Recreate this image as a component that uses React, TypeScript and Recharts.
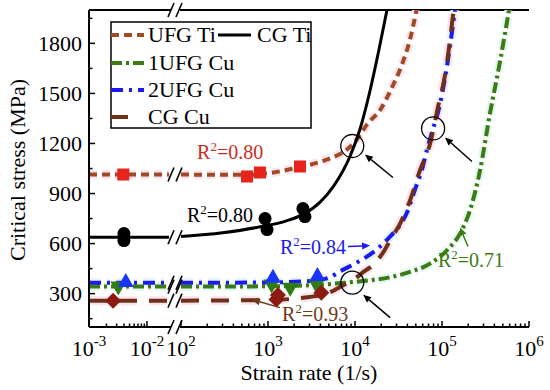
import React from "react";
import {
  ComposedChart,
  Line,
  Scatter,
  XAxis,
  YAxis,
  ReferenceDot,
  ReferenceLine,
} from "recharts";

const FONT = '"Liberation Serif", "Times New Roman", serif';

// strain rate (1/s) -> critical stress (MPa)
const ufgTiLow = [[1e-3, 1014], [0.024, 1014]];
const ufgTiHigh = [
  [100, 1014], [300, 1012], [600, 1012], [1000, 1022], [2300, 1058], [4760, 1104],
  [8090, 1164], [10500, 1224], [14000, 1320], [19400, 1400], [26600, 1536],
  [34700, 1674], [42900, 1824], [51000, 2000],
];
const ufgTiPts = [[3.9e-3, 1014], [574, 1002], [808, 1026], [2330, 1062]];

const cgTiLow = [[1e-3, 638], [0.024, 638]];
const cgTiHigh = [
  [100, 642], [300, 665], [900, 705], [1600, 735], [2600, 778], [4000, 850],
  [5600, 940], [8800, 1125], [11400, 1285], [14100, 1465], [18900, 1765], [23300, 2000],
];
const cgTiPts = [[4e-3, 660], [4e-3, 618], [925, 750], [975, 684], [2520, 810], [2660, 762]];

const ufg1CuLow = [[1e-3, 342], [0.024, 342]];
const ufg1CuHigh = [
  [100, 342], [1000, 344], [3000, 350], [8770, 368], [14900, 380], [25300, 398],
  [42900, 430], [72900, 480], [114000, 560], [161000, 660], [210000, 800],
  [274000, 1040], [356000, 1380], [464000, 1690], [589000, 2000],
];
const ufg1CuPts = [[3.2e-3, 342], [1100, 355], [1800, 335], [3600, 355]];

const ufg2CuLow = [[1e-3, 365], [0.024, 365]];
const ufg2CuHigh = [
  [100, 365], [1000, 367], [3000, 375], [5000, 395], [6800, 435], [10500, 486],
  [17700, 564], [25300, 642], [32900, 710], [39600, 786], [48900, 924], [58900, 1044],
  [67300, 1164], [79000, 1290], [89900, 1386], [114000, 1662], [130000, 1866], [141000, 2000],
];
const ufg2CuPts = [[4.3e-3, 370], [1140, 395], [3700, 405]];

const cgCuLow = [[1e-3, 258], [0.024, 258]];
const cgCuHigh = [
  [100, 258], [1000, 262], [3000, 280], [5000, 305], [7000, 345], [10000, 390],
  [12500, 430], [16000, 470], [21000, 546], [26000, 630], [33000, 720], [43000, 860],
  [55000, 1030], [73000, 1200], [90000, 1420], [110000, 1630], [136000, 2000],
];
const cgCuPts = [[2.6e-3, 258], [1250, 265], [1300, 292], [4100, 305]];

// axis
const xMajors = [1e-3, 1e-2, 1e2, 1e3, 1e4, 1e5, 1e6];
const xMajorExp = ["-3", "-2", "2", "3", "4", "5", "6"];
const yTicks = [150, 300, 450, 600, 750, 900, 1050, 1200, 1350, 1500, 1650, 1800, 1950];
const yMajors = [300, 600, 900, 1200, 1500, 1800];

// annotations
const circles = [[9300, 1185], [9300, 366], [79000, 1290]];
const arrows = [
  { tip: [13000, 1134], dx: 28, dy: 23, color: "#000" },
  { tip: [12400, 294], dx: 27, dy: 23, color: "#000" },
  { tip: [108000, 1236], dx: 27, dy: 24, color: "#000" },
  { tip: [14900, 588], dx: -22, dy: 1, color: "#1b1bf0" },
  { tip: [655, 264], dx: 28, dy: 8, color: "#6b3a1a" },
  { tip: [161000, 696], dx: 8, dy: 19, color: "#3c7a14" },
];
const r2Labels = [
  { text: "0.80", at: [153, 1104], color: "#cc2a1e" },
  { text: "0.80", at: [117, 732], color: "#000" },
  { text: "0.84", at: [1370, 540], color: "#1b1bf0" },
  { text: "0.93", at: [1450, 138], color: "#6b3a1a" },
  { text: "0.71", at: [89900, 462], color: "#3c7a14" },
];

// broken log axis: 10^-3..10^-2 on the left, 10^2..10^6 on the right
const toT = (r: number) => (r < 1 ? 58 * (Math.log10(r) + 3) : 92 + 87 * (Math.log10(r) - 2));
const BREAK_T = 86;

const xMinors: number[] = [];
for (let k = 2; k <= 9; k++) xMinors.push(k * 1e-3);
for (let n = 2; n <= 5; n++) for (let k = 2; k <= 9; k++) xMinors.push(k * Math.pow(10, n));
const xTicks = [...xMajors, ...xMinors].map(toT).sort((a, b) => a - b);

const conv = (arr: number[][]) => arr.map(([r, v]) => ({ t: toT(r), v }));

const series = [
  { name: "UFG Ti", low: ufgTiLow, high: ufgTiHigh, pts: ufgTiPts, color: "#a04a28", halo: "#fce4ee", width: 4, dash: "8 5", marker: "square", mColor: "#e8231b" },
  { name: "CG Ti", low: cgTiLow, high: cgTiHigh, pts: cgTiPts, color: "#000", halo: null, width: 3, dash: undefined, marker: "circle", mColor: "#000" },
  { name: "1UFG Cu", low: ufg1CuLow, high: ufg1CuHigh, pts: ufg1CuPts, color: "#3c7a14", halo: "#e2f8f2", width: 4, dash: "11 4 3 4", marker: "down", mColor: "#2e7d12" },
  { name: "2UFG Cu", low: ufg2CuLow, high: ufg2CuHigh, pts: ufg2CuPts, color: "#1b1bf0", halo: "#e6f4fb", width: 4, dash: "12 6 3 6", marker: "up", mColor: "#1a33ff" },
  { name: "CG Cu", low: cgCuLow, high: cgCuHigh, pts: cgCuPts, color: "#703018", halo: "#fce4ee", width: 4, dash: "18 12", marker: "diamond", mColor: "#8b1a10" },
];

const Marker = (kind: string, color: string) => (p: any) => {
  const { cx, cy } = p;
  if (cx == null || cy == null) return <g />;
  if (kind === "square") return <rect x={cx - 6} y={cy - 6} width={12} height={12} fill={color} />;
  if (kind === "circle") return <circle cx={cx} cy={cy} r={6.5} fill={color} />;
  if (kind === "up")
    return <polygon points={`${cx},${cy - 9} ${cx - 8},${cy + 5} ${cx + 8},${cy + 5}`} fill={color} />;
  if (kind === "down")
    return <polygon points={`${cx},${cy + 9} ${cx - 8},${cy - 5} ${cx + 8},${cy - 5}`} fill={color} />;
  return <polygon points={`${cx},${cy - 8} ${cx + 8},${cy} ${cx},${cy + 8} ${cx - 8},${cy}`} fill={color} />;
};

const majorExp = (t: number) => {
  const i = xMajors.findIndex((m) => Math.abs(toT(m) - t) < 1e-6);
  return i >= 0 ? xMajorExp[i] : null;
};

const BottomTick = (p: any) => {
  const { x, y, payload } = p;
  const exp = majorExp(payload.value);
  return (
    <g>
      <line x1={x} y1={y} x2={x} y2={y - (exp ? 6 : 3.5)} stroke="#000" strokeWidth={1.5} />
      {exp && (
        <text x={x} y={y + 29} textAnchor="middle" fontFamily={FONT} fontSize={22} fill="#000">
          <tspan>10</tspan>
          <tspan dy={-10} fontSize={15}>{exp}</tspan>
        </text>
      )}
    </g>
  );
};

const TopTick = (p: any) => {
  const { x, y, payload } = p;
  const exp = majorExp(payload.value);
  return <line x1={x} y1={y} x2={x} y2={y + (exp ? 6 : 3.5)} stroke="#000" strokeWidth={1.5} />;
};

const LeftTick = (p: any) => {
  const { x, y, payload } = p;
  const major = yMajors.includes(payload.value);
  return (
    <g>
      <line x1={x} y1={y} x2={x + (major ? 6 : 3.5)} y2={y} stroke="#000" strokeWidth={1.5} />
      {major && (
        <text x={x - 7} y={y + 7.5} textAnchor="end" fontFamily={FONT} fontSize={22} fill="#000">
          {payload.value}
        </text>
      )}
    </g>
  );
};

const RightTick = (p: any) => {
  const { x, y, payload } = p;
  const major = yMajors.includes(payload.value);
  return <line x1={x} y1={y} x2={x - (major ? 6 : 3.5)} y2={y} stroke="#000" strokeWidth={1.5} />;
};

const BreakMark = (p: any) => {
  const { cx, cy } = p;
  return (
    <g>
      <line x1={cx - 7} y1={cy + 7} x2={cx - 1} y2={cy - 7} stroke="#000" strokeWidth={1.6} />
      <line x1={cx + 1} y1={cy + 7} x2={cx + 7} y2={cy - 7} stroke="#000" strokeWidth={1.6} />
    </g>
  );
};

const ArrowShape = (dx: number, dy: number, color: string) => (p: any) => {
  const { cx, cy } = p;
  const len = Math.hypot(dx, dy);
  const ux = -dx / len;
  const uy = -dy / len;
  const bx = cx - ux * 8;
  const by = cy - uy * 8;
  return (
    <g>
      <line x1={cx + dx} y1={cy + dy} x2={bx} y2={by} stroke={color} strokeWidth={1.5} />
      <polygon
        points={`${cx},${cy} ${bx - uy * 3.5},${by + ux * 3.5} ${bx + uy * 3.5},${by - ux * 3.5}`}
        fill={color}
      />
    </g>
  );
};

const R2Shape = (text: string, color: string) => (p: any) => (
  <text x={p.cx} y={p.cy} fontFamily={FONT} fontSize={20} fill={color}>
    <tspan>R</tspan>
    <tspan dy={-8} fontSize={13}>2</tspan>
    <tspan dy={8}>={text}</tspan>
  </text>
);

const legendRows = [
  { name: "UFG Ti", x: 111, y: 35 },
  { name: "CG Ti", x: 218, y: 35 },
  { name: "1UFG Cu", x: 111, y: 63 },
  { name: "2UFG Cu", x: 111, y: 90 },
  { name: "CG Cu", x: 111, y: 117 },
];

const fitLine = (s: any, part: "low" | "high", halo: boolean) => (
  <Line
    key={s.name + "-" + part + (halo ? "-halo" : "")}
    xAxisId="b"
    yAxisId="l"
    data={conv(s[part])}
    dataKey="v"
    type="monotone"
    stroke={halo ? s.halo : s.color}
    strokeWidth={halo ? 9 : s.width}
    strokeDasharray={s.dash}
    dot={false}
    activeDot={false}
    isAnimationActive={false}
  />
);

export default function App() {
  return (
    <div style={{ position: "absolute", left: 0, top: 0, width: 550, height: 390, background: "#fff" }}>
      <ComposedChart width={550} height={390} margin={{ top: 10, right: 21, bottom: 0, left: 0 }}>
        <XAxis
          xAxisId="b"
          type="number"
          dataKey="t"
          domain={[0, 440]}
          ticks={xTicks}
          interval={0}
          tick={BottomTick}
          tickLine={false}
          tickSize={0}
          tickMargin={0}
          axisLine={false}
          height={63}
          allowDataOverflow
        />
        <XAxis
          xAxisId="tp"
          orientation="top"
          type="number"
          dataKey="t"
          domain={[0, 440]}
          ticks={xTicks}
          interval={0}
          tick={TopTick}
          tickLine={false}
          tickSize={0}
          tickMargin={0}
          axisLine={false}
          height={0}
          allowDataOverflow
        />
        <YAxis
          yAxisId="l"
          type="number"
          dataKey="v"
          domain={[100, 2000]}
          ticks={yTicks}
          interval={0}
          tick={LeftTick}
          tickLine={false}
          tickSize={0}
          tickMargin={0}
          axisLine={{ stroke: "#000", strokeWidth: 2 }}
          width={89}
          allowDataOverflow
          label={{
            content: () => (
              <text
                x={25}
                y={170}
                transform="rotate(-90 25 170)"
                textAnchor="middle"
                fontFamily={FONT}
                fontSize={22}
                fill="#000"
              >
                Critical stress (MPa)
              </text>
            ),
          }}
        />
        <YAxis
          yAxisId="r"
          orientation="right"
          type="number"
          dataKey="v"
          domain={[100, 2000]}
          ticks={yTicks}
          interval={0}
          tick={RightTick}
          tickLine={false}
          tickSize={0}
          tickMargin={0}
          axisLine={{ stroke: "#000", strokeWidth: 2 }}
          width={0}
          allowDataOverflow
        />

        {/* frame lines with the break gap */}
        <ReferenceLine xAxisId="b" yAxisId="l" segment={[{ x: 0, y: 100 }, { x: 82, y: 100 }]} stroke="#000" strokeWidth={2} />
        <ReferenceLine xAxisId="b" yAxisId="l" segment={[{ x: 91, y: 100 }, { x: 440, y: 100 }]} stroke="#000" strokeWidth={2} />
        <ReferenceLine xAxisId="b" yAxisId="l" segment={[{ x: 0, y: 2000 }, { x: 82, y: 2000 }]} stroke="#000" strokeWidth={2} />
        <ReferenceLine xAxisId="b" yAxisId="l" segment={[{ x: 91, y: 2000 }, { x: 440, y: 2000 }]} stroke="#000" strokeWidth={2} />

        {series.filter((s) => s.halo).map((s) => fitLine(s, "low", true))}
        {series.filter((s) => s.halo).map((s) => fitLine(s, "high", true))}
        {series.map((s) => fitLine(s, "low", false))}
        {series.map((s) => fitLine(s, "high", false))}
        {series.map((s) => (
          <Scatter
            key={s.name + "-pts"}
            xAxisId="b"
            yAxisId="l"
            data={conv(s.pts)}
            dataKey="v"
            shape={Marker(s.marker, s.mColor)}
            isAnimationActive={false}
          />
        ))}

        {series.map((s) => (
          <ReferenceDot key={s.name + "-brk"} xAxisId="b" yAxisId="l" x={BREAK_T} y={s.low[1][1]} shape={BreakMark} />
        ))}
        <ReferenceDot xAxisId="b" yAxisId="l" x={BREAK_T} y={100} shape={BreakMark} ifOverflow="visible" />
        <ReferenceDot xAxisId="b" yAxisId="l" x={BREAK_T} y={2000} shape={BreakMark} ifOverflow="visible" />

        {circles.map(([r, v], i) => (
          <ReferenceDot
            key={"c" + i}
            xAxisId="b"
            yAxisId="l"
            x={toT(r)}
            y={v}
            shape={(p: any) => <circle cx={p.cx} cy={p.cy} r={11.5} fill="none" stroke="#000" strokeWidth={1.3} />}
          />
        ))}
        {arrows.map((a, i) => (
          <ReferenceDot
            key={"a" + i}
            xAxisId="b"
            yAxisId="l"
            x={toT(a.tip[0])}
            y={a.tip[1]}
            shape={ArrowShape(a.dx, a.dy, a.color)}
          />
        ))}
        {r2Labels.map((l, i) => (
          <ReferenceDot
            key={"l" + i}
            xAxisId="b"
            yAxisId="l"
            x={toT(l.at[0])}
            y={l.at[1]}
            shape={R2Shape(l.text, l.color)}
            ifOverflow="visible"
          />
        ))}
      </ComposedChart>

      <svg width={550} height={390} style={{ position: "absolute", left: 0, top: 0, pointerEvents: "none" }}>
        <text x={309} y={380} textAnchor="middle" fontFamily={FONT} fontSize={22} fill="#000">
          Strain rate (1/s)
        </text>
        <rect x={111} y={22} width={200} height={106} fill="#fff" stroke="#000" strokeWidth={1.5} />
        {legendRows.map((row) => {
          const s = series.find((q) => q.name === row.name)!;
          const len = s.name === "CG Cu" ? 17 : 33;
          return (
            <g key={row.name}>
              <line
                x1={row.x}
                y1={row.y}
                x2={row.x + len}
                y2={row.y}
                stroke={s.color}
                strokeWidth={s.width}
                strokeDasharray={s.dash}
              />
              <text x={row.x + (row.name === "CG Ti" ? 39 : 37)} y={row.y + 7} fontFamily={FONT} fontSize={22} fill="#000">
                {row.name}
              </text>
            </g>
          );
        })}
      </svg>
    </div>
  );
}
